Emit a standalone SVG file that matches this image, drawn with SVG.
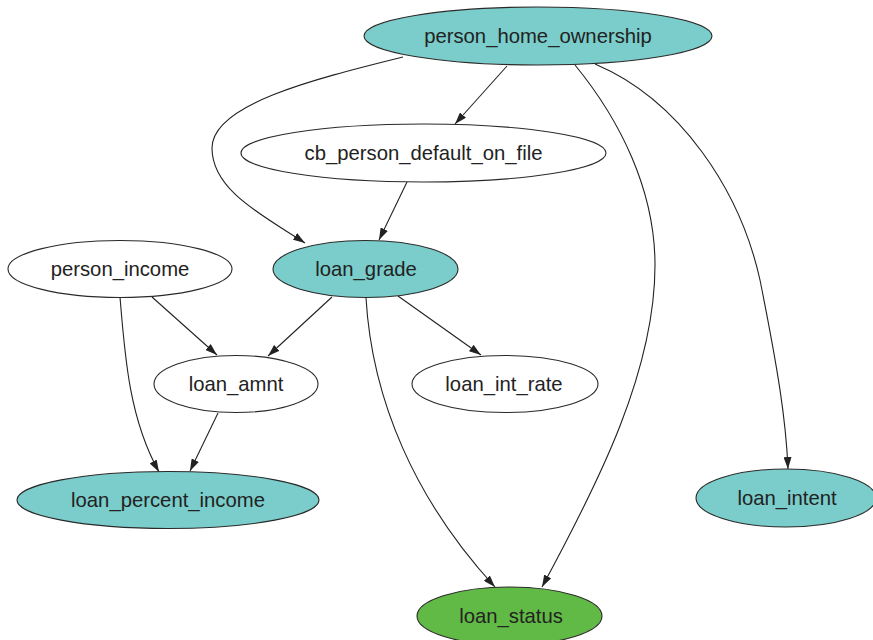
<svg xmlns="http://www.w3.org/2000/svg" width="873" height="640" viewBox="0 0 873 640">
  <style>
    .node ellipse { stroke: #2a2a2a; stroke-width: 1.1; }
    .plain { fill: #ffffff; }
    .teal { fill: #7acdca; }
    .green { fill: #62ba46; }
    .node text { font-family: "Liberation Sans", Arial, sans-serif; font-size: 20.3px; fill: #222222; text-anchor: middle; }
    .edge { fill: none; stroke: #222222; stroke-width: 1.1; marker-end: url(#arrow); }
  </style>
  <defs>
    <marker id="arrow" viewBox="0 0 12 8" refX="12" refY="4" markerWidth="12" markerHeight="8" markerUnits="userSpaceOnUse" orient="auto">
      <path d="M0,0 L12,4 L0,8 Z" fill="#222222"/>
    </marker>
  </defs>
  <rect width="873" height="640" fill="#ffffff"/>

  <g id="connectors">
    <path class="edge" d="M507,66 L455,124"/>
    <path class="edge" d="M403,57 C310,80 212,105 212,148 C212,190 262,215 305,243"/>
    <path class="edge" d="M407,182 L379,240"/>
    <path class="edge" d="M575,65 C620,120 655,190 655,265 C655,370 600,480 542,587"/>
    <path class="edge" d="M595,64 C680,100 740,190 760,280 C778,370 786,420 788,469"/>
    <path class="edge" d="M152,297 L217,355"/>
    <path class="edge" d="M332,297 L268,356"/>
    <path class="edge" d="M398,296 L481,355"/>
    <path class="edge" d="M366,298 C372,400 415,500 495,587"/>
    <path class="edge" d="M120,297 C125,360 130,420 159,472"/>
    <path class="edge" d="M218,413 L190,471"/>
  </g>

  <g id="person_home_ownership" class="node">
    <ellipse class="teal" cx="538" cy="36" rx="174" ry="29"/>
    <text x="538" y="43">person_home_ownership</text>
  </g>
  <g id="cb_person_default_on_file" class="node">
    <ellipse class="plain" cx="423.5" cy="153" rx="182.5" ry="29"/>
    <text x="423.5" y="160">cb_person_default_on_file</text>
  </g>
  <g id="person_income" class="node">
    <ellipse class="plain" cx="120" cy="269" rx="112" ry="28.5"/>
    <text x="120" y="276">person_income</text>
  </g>
  <g id="loan_grade" class="node">
    <ellipse class="teal" cx="365.5" cy="269" rx="92.5" ry="28.5"/>
    <text x="366" y="276">loan_grade</text>
  </g>
  <g id="loan_amnt" class="node">
    <ellipse class="plain" cx="236" cy="384" rx="82" ry="28.5"/>
    <text x="236" y="391">loan_amnt</text>
  </g>
  <g id="loan_int_rate" class="node">
    <ellipse class="plain" cx="505" cy="384" rx="93" ry="28.5"/>
    <text x="504" y="391">loan_int_rate</text>
  </g>
  <g id="loan_percent_income" class="node">
    <ellipse class="teal" cx="168" cy="500" rx="151" ry="28.5"/>
    <text x="168" y="507">loan_percent_income</text>
  </g>
  <g id="loan_intent" class="node">
    <ellipse class="teal" cx="786" cy="498" rx="90" ry="29"/>
    <text x="787" y="505">loan_intent</text>
  </g>
  <g id="loan_status" class="node">
    <ellipse class="green" cx="509.5" cy="616" rx="92.5" ry="29"/>
    <text x="511" y="623">loan_status</text>
  </g>
</svg>
